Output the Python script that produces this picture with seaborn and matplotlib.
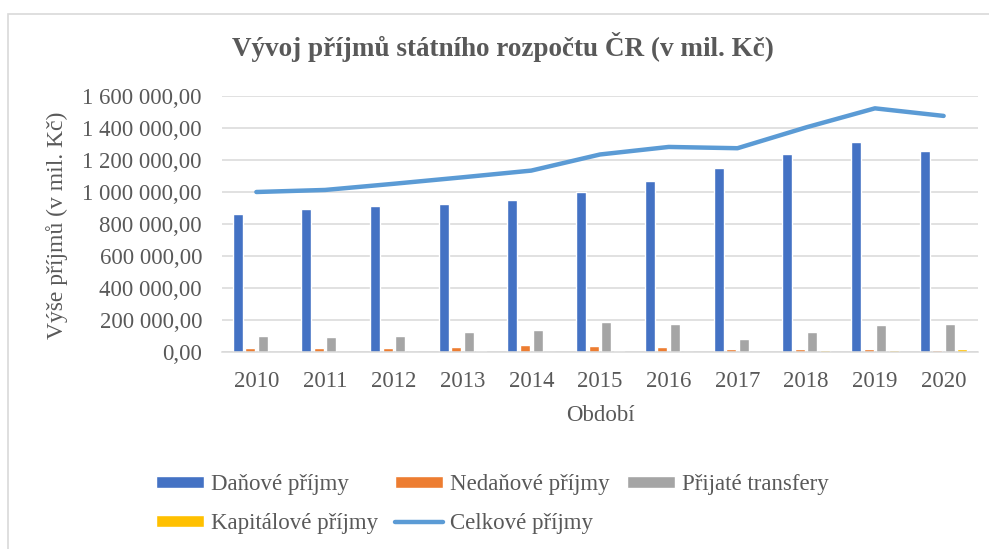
import pandas as pd
import numpy as np
import matplotlib.pyplot as plt
import seaborn as sns
from matplotlib.patches import Patch, Rectangle
from matplotlib.lines import Line2D
from matplotlib.ticker import FuncFormatter, MultipleLocator

# hodnoty (mil. Kč)
roky = ['2010', '2011', '2012', '2013', '2014', '2015', '2016', '2017', '2018', '2019', '2020']
danove = [863000, 892000, 913000, 925000, 952000, 1000000, 1070000, 1153000, 1239000, 1313000, 1257000]
nedanove = [28000, 24000, 28000, 32000, 41000, 37000, 32000, 19000, 19000, 19000, 15000]
transfery = [103000, 95000, 103000, 127000, 135000, 187000, 172000, 82000, 123000, 170000, 176000]
kapitalove = [1500, 1500, 1500, 4000, 1500, 4000, 3000, 3000, 15000, 15000, 19000]
celkove = [1000000, 1012800, 1051400, 1091900, 1133800, 1234500, 1281600, 1273600, 1403900, 1522900, 1475500]

serie = ['Daňové příjmy', 'Nedaňové příjmy', 'Přijaté transfery', 'Kapitálové příjmy']
barvy = ['#4472C4', '#ED7D31', '#A5A5A5', '#FFC000']
barva_cara = '#5B9BD5'
text_c = '#595959'

df = pd.DataFrame({
    'rok': roky * 4,
    'typ': [s for s in serie for _ in roky],
    'hodnota': danove + nedanove + transfery + kapitalove,
})

sns.set_theme(style='white')
plt.rcParams['font.family'] = ['Liberation Serif', 'DejaVu Serif']

fig = plt.figure(figsize=(9.89, 5.49), dpi=100)
ax = fig.add_axes([222 / 989, 1 - 352 / 549, (978 - 222) / 989, 256 / 549])

# rámeček grafu
fig.patches.append(Rectangle((8 / 989, -0.05), 1.1, 1 - 14 / 549 + 0.05, transform=fig.transFigure,
                             fill=False, edgecolor='#D9D9D9', linewidth=1.2))

sns.barplot(data=df, x='rok', y='hodnota', hue='typ', hue_order=serie, palette=barvy,
            width=0.73, gap=0.2, ax=ax, legend=False, saturation=1, zorder=2)
sns.lineplot(x=np.arange(len(roky)), y=celkove, ax=ax, color=barva_cara, linewidth=3.2,
             solid_capstyle='round', solid_joinstyle='round', zorder=3)

ax.set_ylim(0, 1600000)
ax.set_xlim(-0.5, len(roky) - 0.5)
ax.yaxis.set_major_locator(MultipleLocator(200000))
ax.yaxis.set_major_formatter(FuncFormatter(lambda v, p: f"{v:,.2f}".replace(',', ' ').replace('.', ',')))
ax.grid(axis='y', color='#D9D9D9', linewidth=1.1, zorder=0)
ax.set_axisbelow(True)
for s in ['top', 'right', 'left']:
    ax.spines[s].set_visible(False)
ax.spines['bottom'].set_color('#D9D9D9')
ax.spines['bottom'].set_linewidth(1.1)

ax.tick_params(axis='y', length=0, pad=14.4, labelsize=16.5, labelcolor=text_c)
ax.tick_params(axis='x', length=0, pad=14, labelsize=16.5, labelcolor=text_c)
ax.set_xlabel('Období', fontsize=16.5, color=text_c, labelpad=9)
ax.set_ylabel('')
fig.text(57 / 989, 1 - 225 / 549, 'Výše příjmů (v mil. Kč)', rotation=90, ha='center', va='center',
         fontsize=17, color=text_c)

fig.text(503 / 989, 1 - 47 / 549, 'Vývoj příjmů státního rozpočtu ČR (v mil. Kč)', ha='center',
         va='center', fontsize=19.5, fontweight='bold', color=text_c)

h = [Patch(facecolor=c, label=s) for s, c in zip(serie, barvy)]
h_line = Line2D([], [], color=barva_cara, linewidth=3.2, solid_capstyle='round', label='Celkové příjmy')
handles = [h[0], h[3], h[1], h_line, h[2]]
fig.legend(handles=handles, ncol=3, loc='upper left', bbox_to_anchor=(156 / 989, 1 - 474 / 549),
           frameon=False, fontsize=16.5, handlelength=2.1, handleheight=0.45, handletextpad=0.3,
           columnspacing=0.75, labelspacing=0.78, borderpad=0, borderaxespad=0, labelcolor=text_c)

fig.savefig('out.png', dpi=100, facecolor='white')
